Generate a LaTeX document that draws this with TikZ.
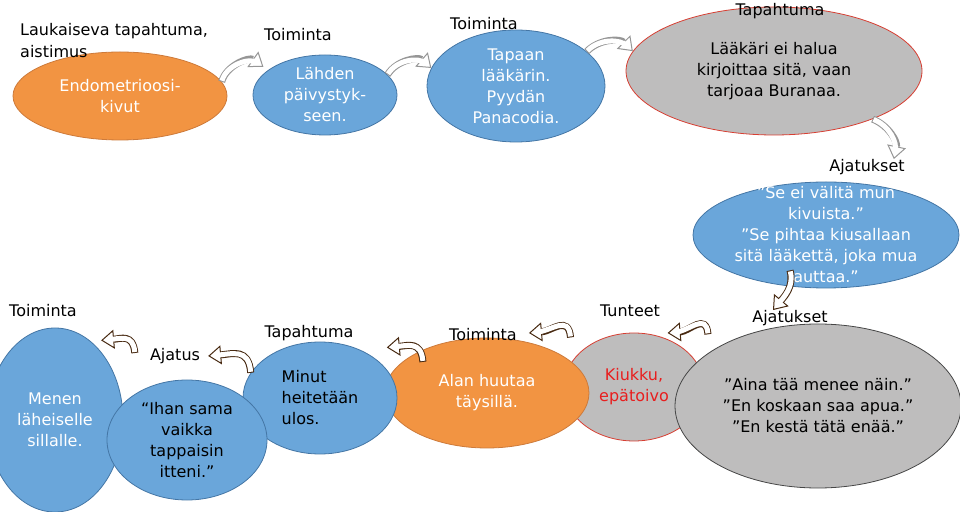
\documentclass[tikz,border=0pt]{standalone}
\usepackage{fontspec}
\setmainfont{DejaVu Sans}
\usetikzlibrary{shapes.geometric,arrows.meta}

\definecolor{bubbleorange}{RGB}{242,148,66}
\definecolor{orangeline}{RGB}{205,122,58}
\definecolor{bubbleblue}{RGB}{106,166,218}
\definecolor{blueline}{RGB}{68,118,165}
\definecolor{bubblegray}{RGB}{190,189,189}
\definecolor{grayline}{RGB}{70,70,70}
\definecolor{redline}{RGB}{215,62,50}
\definecolor{kiukkured}{RGB}{232,30,30}
\definecolor{arrowgray}{RGB}{150,150,150}
\definecolor{arrowbrown}{RGB}{72,42,18}

\tikzset{
  bubble/.style={ellipse, inner xsep=-10pt, inner ysep=-20pt, line width=0.8pt,
    align=center, font=\fontsize{16}{21}\selectfont},
  orangebubble/.style={bubble, fill=bubbleorange, draw=orangeline, text=white},
  bluebubble/.style={bubble, fill=bubbleblue, draw=blueline},
  graybubble/.style={bubble, fill=bubblegray, draw=#1},
  tag/.style={inner sep=0pt, font=\fontsize{16}{22}\selectfont},
  bentarrow/.style={draw=#1, line width=7pt,
    -{Triangle[fill=white, line width=1pt, length=13pt, width=19pt]},
    postaction={draw=white, line width=5pt, -, shorten >=7pt, shorten <=1pt}},
  grayarrow/.style={bentarrow=arrowgray},
  brownarrow/.style={bentarrow=arrowbrown}
}

\begin{document}
\begin{tikzpicture}[x=1pt, y=1pt]
\useasboundingbox (0,0) rectangle (960,511);

% upper chain
\node[orangebubble, minimum width=214pt, minimum height=88pt] (endo) at (120,415) {Endometrioosi-\\kivut};
\node[bluebubble, text=white, minimum width=144pt, minimum height=80pt] (lahden) at (325,416) {Lähden\\päivystyk-\\seen.};
\node[bluebubble, text=white, minimum width=178pt, minimum height=112pt] (tapaan) at (516,425) {Tapaan\\lääkärin.\\Pyydän\\Panacodia.};
\node[graybubble=redline, minimum width=296pt, minimum height=128pt] (laakari) at (774,440) {Lääkäri ei halua\\kirjoittaa sitä, vaan\\tarjoaa Buranaa.};
\node[bluebubble, text=white, minimum width=266pt, minimum height=106pt] (kivuista) at (826,276) {"Se ei välitä mun\\kivuista."\\"Se pihtaa kiusallaan\\sitä lääkettä, joka mua\\auttaa."};

\node[tag, anchor=west, align=left] (laukaiseva) at (20,470) {Laukaiseva tapahtuma,\\aistimus};
\node[tag] (toim1) at (298,476) {Toiminta};
\node[tag] (toim2) at (484,487) {Toiminta};
\node[tag] (tapah1) at (780,500) {Tapahtuma};
\node[tag] (ajat1) at (867,344) {Ajatukset};

% lower chain
\node[graybubble=redline, text=kiukkured, minimum width=140pt, minimum height=108pt] (kiukku) at (634,124) {Kiukku,\\epätoivo};
\node[orangebubble, minimum width=204pt, minimum height=110pt] (huutaa) at (487,118) {Alan huutaa\\täysillä.};
\node[bluebubble, align=left, minimum width=154pt, minimum height=112pt] (minut) at (320,113) {Minut\\heitetään\\ulos.};
\node[bluebubble, text=white, minimum width=136pt, minimum height=184pt] (menen) at (55,91) {Menen\\läheiselle\\sillalle.};
\node[bluebubble, minimum width=160pt, minimum height=120pt] (ihan) at (187,71) {“Ihan sama\\vaikka\\tappaisin\\itteni.”};
\node[graybubble=grayline, minimum width=286pt, minimum height=164pt] (aina) at (818,105) {"Aina tää menee näin."\\"En koskaan saa apua."\\"En kestä tätä enää."};

\node[tag] (toim3) at (43,200) {Toiminta};
\node[tag] (ajatus) at (175,155) {Ajatus};
\node[tag] (tapah2) at (309,178) {Tapahtuma};
\node[tag] (toim4) at (483,176) {Toiminta};
\node[tag] (tunteet) at (630,200) {Tunteet};
\node[tag] (ajat2) at (790,193) {Ajatukset};

% arrows
\draw[grayarrow] (endo.8) to[bend left=55] ([shift={(-5pt,3pt)}]lahden.156);
\draw[grayarrow] (lahden.18) to[bend left=50] (tapaan.168);
\draw[grayarrow] (tapaan.26) to[bend left=45] (laakari.172);
\draw[grayarrow] (laakari.-26) to[bend left=40] ([xshift=-11pt]ajat1.north east);

\draw[brownarrow] ([shift={(-36pt,18pt)}]kivuista.south) to[out=-75, in=50] ([xshift=-17pt]ajat2.north);
\draw[brownarrow] ([shift={(-15pt,10pt)}]aina.147) to[out=95, in=5, looseness=1.4] ([shift={(3pt,5pt)}]kiukku.58);
\draw[brownarrow] ([shift={(18pt,13pt)}]huutaa.33) to[out=95, in=5, looseness=1.4] ([shift={(12pt,2pt)}]toim4.east);
\draw[brownarrow] ([shift={(12pt,-6pt)}]huutaa.154) to[out=95, in=5, looseness=1.4] ([shift={(13pt,10pt)}]minut.37);
\draw[brownarrow] (minut.160) to[out=95, in=5, looseness=1.4] ([xshift=8pt]ajatus.east);
\draw[brownarrow] ([shift={(-15pt,3pt)}]ajatus.west) to[out=95, in=5, looseness=1.4] ([shift={(2pt,9pt)}]menen.58);
\end{tikzpicture}
\end{document}
